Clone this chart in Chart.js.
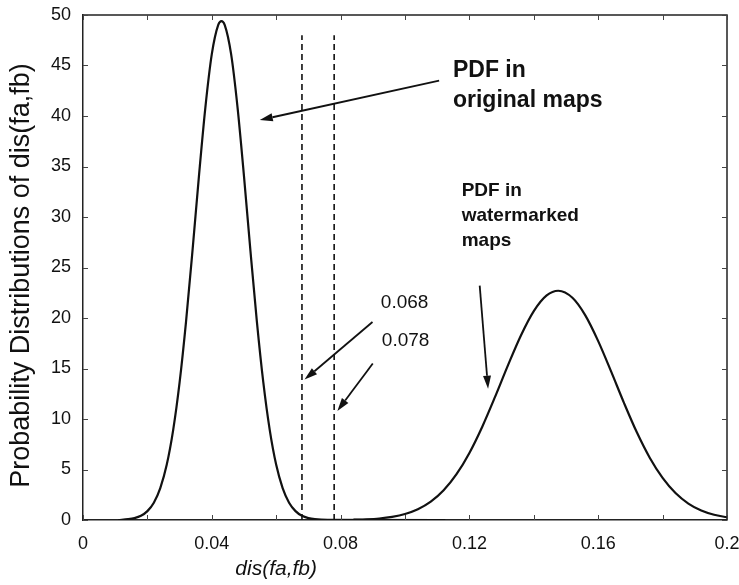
<!DOCTYPE html>
<html>
<head>
<meta charset="utf-8">
<script src="https://cdn.jsdelivr.net/npm/chart.js@4.4.1/dist/chart.umd.min.js"></script>
<style>
  html, body { margin: 0; padding: 0; background: #fff; }
  canvas { display: block; }
</style>
</head>
<body>
<canvas id="pdfChart" width="739" height="585"></canvas>
<script>
// PDF of dis(fa,fb) between original maps
const originalX = [0.011, 0.014, 0.016, 0.018, 0.020, 0.022, 0.024, 0.026, 0.028, 0.030,
                   0.032, 0.034, 0.036, 0.038, 0.040, 0.042, 0.043, 0.044, 0.046, 0.048,
                   0.050, 0.052, 0.054, 0.056, 0.058, 0.060, 0.062, 0.064, 0.066, 0.068,
                   0.070, 0.072, 0.076, 0.1125];
const originalPdf = [0, 0.08, 0.19, 0.42, 0.88, 1.71, 3.16, 5.46, 8.90, 13.62,
                     19.65, 26.65, 34.02, 40.83, 46.12, 49.02, 49.4, 49.02, 46.12, 40.83,
                     34.02, 26.65, 19.65, 13.62, 8.90, 5.46, 3.16, 1.71, 0.88, 0.42,
                     0.19, 0.08, 0.01, 0];

// PDF of dis(fa,fb) between original and watermarked maps
const watermarkedX = [0.084, 0.088, 0.092, 0.096, 0.100, 0.104, 0.108, 0.112, 0.116, 0.120,
                      0.124, 0.128, 0.132, 0.136, 0.140, 0.144, 0.1476, 0.152, 0.156, 0.160,
                      0.164, 0.168, 0.172, 0.176, 0.180, 0.184, 0.188, 0.192, 0.196, 0.200];
const watermarkedPdf = [0.03, 0.07, 0.15, 0.31, 0.59, 1.06, 1.81, 2.94, 4.53, 6.64,
                        9.24, 12.21, 15.33, 18.27, 20.68, 22.23, 22.7, 22.00, 20.26, 17.71,
                        14.71, 11.60, 8.68, 6.17, 4.17, 2.67, 1.63, 0.94, 0.52, 0.27];

// decision thresholds (dashed verticals)
const thresholds = [0.068, 0.078];
const thresholdTop = 48;

// axis ticks
const xTickLabels = ['0', '0.04', '0.08', '0.12', '0.16', '0.2'];
const xTickValues = [0, 0.04, 0.08, 0.12, 0.16, 0.2];

const FONT = '"Liberation Sans", Arial, Helvetica, sans-serif';
const INK = '#111';

function pairs(xs, ys) { return xs.map((x, i) => ({ x: x, y: ys[i] })); }

// callouts, placed in data coordinates
const callouts = [
  { lines: ['PDF in', 'original maps'], at: [0.1149, 43.9], size: 23, bold: true, lead: 30 },
  { lines: ['PDF in', 'watermarked', 'maps'], at: [0.1176, 32.1], size: 19, bold: true, lead: 25 },
  { lines: [String(thresholds[0])], at: [0.0925, 21.0], size: 19, bold: false, lead: 0 },
  { lines: [String(thresholds[1])], at: [0.0928, 17.2], size: 19, bold: false, lead: 0 }
];
const arrows = [
  { from: [0.1106, 43.5], to: [0.0549, 39.6] },
  { from: [0.1232, 23.2], to: [0.1258, 13.0] },
  { from: [0.0899, 19.6], to: [thresholds[0] + 0.0008, 13.9] },
  { from: [0.0900, 15.5], to: [thresholds[1] + 0.0010, 10.8] }
];

const frameAndTicks = {
  id: 'frameAndTicks',
  afterDatasetsDraw(chart) {
    const { ctx, chartArea: a, scales: { x, y } } = chart;
    ctx.save();
    ctx.strokeStyle = '#222';
    ctx.lineWidth = 1.5;
    ctx.beginPath();
    ctx.moveTo(a.left, a.top); ctx.lineTo(a.right, a.top); ctx.lineTo(a.right, a.bottom);
    ctx.stroke();
    ctx.lineWidth = 1;
    ctx.strokeStyle = '#444';
    const len = 5;
    ctx.beginPath();
    x.ticks.forEach(t => {
      const px = Math.round(x.getPixelForValue(t.value)) + 0.5;
      ctx.moveTo(px, a.bottom); ctx.lineTo(px, a.bottom - len);
      ctx.moveTo(px, a.top); ctx.lineTo(px, a.top + len);
    });
    y.ticks.forEach(t => {
      const py = Math.round(y.getPixelForValue(t.value)) + 0.5;
      ctx.moveTo(a.left, py); ctx.lineTo(a.left + len, py);
      ctx.moveTo(a.right, py); ctx.lineTo(a.right - len, py);
    });
    ctx.stroke();
    ctx.restore();
  }
};

const notesAndTitles = {
  id: 'notesAndTitles',
  afterDraw(chart) {
    const { ctx, chartArea: a, scales: { x, y } } = chart;
    ctx.save();
    ctx.fillStyle = INK;
    ctx.strokeStyle = INK;

    callouts.forEach(c => {
      ctx.font = (c.bold ? 'bold ' : '') + c.size + 'px ' + FONT;
      ctx.textAlign = 'left';
      ctx.textBaseline = 'alphabetic';
      const px = x.getPixelForValue(c.at[0]);
      const py = y.getPixelForValue(c.at[1]);
      c.lines.forEach((s, i) => ctx.fillText(s, px, py + i * c.lead));
    });

    ctx.lineWidth = 1.8;
    arrows.forEach(ar => {
      const x0 = x.getPixelForValue(ar.from[0]), y0 = y.getPixelForValue(ar.from[1]);
      const x1 = x.getPixelForValue(ar.to[0]), y1 = y.getPixelForValue(ar.to[1]);
      const ang = Math.atan2(y1 - y0, x1 - x0);
      const head = 13, half = 4;
      const bx = x1 - head * Math.cos(ang), by = y1 - head * Math.sin(ang);
      ctx.beginPath();
      ctx.moveTo(x0, y0); ctx.lineTo(bx, by);
      ctx.stroke();
      ctx.beginPath();
      ctx.moveTo(x1, y1);
      ctx.lineTo(bx + half * Math.sin(ang), by - half * Math.cos(ang));
      ctx.lineTo(bx - half * Math.sin(ang), by + half * Math.cos(ang));
      ctx.closePath();
      ctx.fill();
    });

    // axis titles
    ctx.font = 'italic 21px ' + FONT;
    ctx.textAlign = 'center';
    ctx.textBaseline = 'middle';
    ctx.fillText('dis(fa,fb)', x.getPixelForValue(0.06), 569);

    ctx.font = '27px ' + FONT;
    ctx.translate(22, (a.top + a.bottom) / 2 + 8);
    ctx.rotate(-Math.PI / 2);
    ctx.fillText('Probability Distributions of dis(fa,fb)', 0, 0);
    ctx.restore();
  }
};

const curveStyle = {
  borderColor: INK, borderWidth: 2.2, pointRadius: 0, fill: false,
  cubicInterpolationMode: 'monotone'
};
const dashStyle = {
  borderColor: INK, borderWidth: 1.6, pointRadius: 0, fill: false,
  borderDash: [6, 4], tension: 0
};

new Chart(document.getElementById('pdfChart'), {
  type: 'line',
  data: {
    datasets: [
      Object.assign({ label: 'PDF in original maps', data: pairs(originalX, originalPdf) }, curveStyle),
      Object.assign({ label: 'PDF in watermarked maps', data: pairs(watermarkedX, watermarkedPdf) }, curveStyle),
      Object.assign({ label: 'threshold ' + thresholds[0],
        data: pairs([thresholds[0], thresholds[0]], [0, thresholdTop]) }, dashStyle),
      Object.assign({ label: 'threshold ' + thresholds[1],
        data: pairs([thresholds[1], thresholds[1]], [0, thresholdTop]) }, dashStyle)
    ]
  },
  options: {
    responsive: false,
    animation: false,
    devicePixelRatio: 1,
    layout: { padding: { top: 15, right: 12, left: 0, bottom: 0 } },
    plugins: { legend: { display: false }, tooltip: { enabled: false } },
    scales: {
      x: {
        type: 'linear', min: 0, max: 0.2,
        grid: { display: false },
        border: { display: true, color: '#222', width: 1.5 },
        ticks: {
          stepSize: 0.02, autoSkip: false, maxRotation: 0, padding: 5,
          color: INK, font: { family: FONT, size: 18 },
          callback: (v) => {
            const i = xTickValues.findIndex(t => Math.abs(t - v) < 1e-9);
            return i >= 0 ? xTickLabels[i] : '';
          }
        },
        afterFit: (s) => { s.height = 65; s.paddingLeft = 0; s.paddingRight = 0; }
      },
      y: {
        min: 0, max: 50,
        grid: { display: false },
        border: { display: true, color: '#222', width: 1.5 },
        ticks: { stepSize: 5, padding: 4, color: INK, font: { family: FONT, size: 18 } },
        afterFit: (s) => { s.width = 83; s.paddingTop = 0; s.paddingBottom = 0; }
      }
    }
  },
  plugins: [frameAndTicks, notesAndTitles]
});
</script>
</body>
</html>
